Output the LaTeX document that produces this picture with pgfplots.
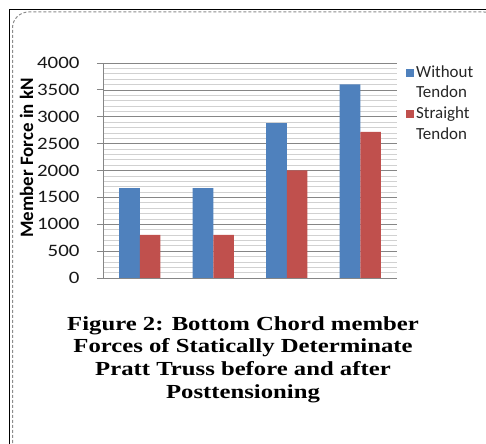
\documentclass[border=0pt]{standalone}
\usepackage{fontspec}
\setmainfont{Carlito}
\usepackage{pgfplots}
\pgfplotsset{compat=1.18}
\newfontfamily\tickfont[FakeStretch=1.2]{Carlito}
\newfontfamily\capfont[FakeStretch=1.24]{Liberation Serif}
\definecolor{barblue}{HTML}{4F81BD}
\definecolor{barred}{HTML}{C0504D}
\definecolor{axgray}{HTML}{868686}
\pgfplotsset{mylegend/.style={legend image code/.code={\fill[##1] (0bp,-4bp) rectangle (8bp,4bp);}}}
\begin{document}
\begin{tikzpicture}
\useasboundingbox (0bp,0bp) rectangle (486bp,444bp);
\fill[white] (0bp,0bp) rectangle (486bp,444bp);
\draw[black, line width=1.8bp] (9.5bp,0bp) -- (9.5bp,434.5bp) -- (486bp,434.5bp);
\begin{scope}
\clip (0bp,0bp) rectangle (486bp,444bp);
\draw[black!45, line width=1bp, dash pattern=on 3bp off 2bp, rounded corners=16bp] (12.5bp,-20bp) rectangle (500bp,432bp);
\end{scope}
\begin{axis}[
 at={(103bp,166bp)}, anchor=south west, scale only axis, width=294bp, height=215bp,
 ybar=0pt, bar width=0.28,
 xmin=-0.5, xmax=3.5, ymin=0, ymax=4000,
 xtick=\empty, ytick={0,500,...,4000}, minor y tick num=4,
 ymajorgrids, yminorgrids,
 major grid style={draw=axgray, line width=0.7bp},
 minor grid style={draw=black!18, line width=0.7bp},
 axis x line=bottom, axis y line=left, axis line style={-, draw=axgray, line width=0.8bp},
 tick align=outside, major tick length=6bp, minor tick length=0pt,
 ytick style={draw=axgray, line width=0.8bp},
 /pgf/number format/assume math mode=true,
 yticklabel style={font=\tickfont\fontsize{17.5}{20}\selectfont, xshift=-14bp, text=black!90},
 scaled y ticks=false, /pgf/number format/1000 sep={},
 ylabel={Member Force in kN},
 ylabel style={font=\bfseries\fontsize{19}{22}\selectfont, at={(axis description cs:-0.26,0.558)}, anchor=center},
 legend cell align=left,
 legend style={at={(axis description cs:1.0306,0.993)}, anchor=north west, draw=none, fill=none,
   font=\fontsize{17}{20.5}\selectfont, text=black!85, row sep=4.2bp, column sep=2bp, inner sep=0pt,
   nodes={inner sep=0pt, text height=12.5bp, text depth=4bp}},
]
\addplot[fill=barblue, draw=none, forget plot, bar shift=-0.14] coordinates {(0,1670) (1,1670) (2,2880) (3,3600)};
\addplot[fill=barred, draw=none, forget plot, bar shift=0.14] coordinates {(0,800) (1,800) (2,2000) (3,2720)};
\addlegendimage{mylegend, fill=barblue, draw=none}
\addlegendimage{empty legend}
\addlegendimage{mylegend, fill=barred, draw=none}
\addlegendimage{empty legend}
\legend{Without,Tendon,Straight,Tendon}
\end{axis}
\node[font=\capfont\bfseries\fontsize{20}{22.7}\selectfont, align=center, anchor=north, inner sep=0pt] at (243bp,127.7bp) {Figure 2: Bottom Chord member\\Forces of Statically Determinate\\Pratt Truss before and after\\Posttensioning};
\end{tikzpicture}
\end{document}
